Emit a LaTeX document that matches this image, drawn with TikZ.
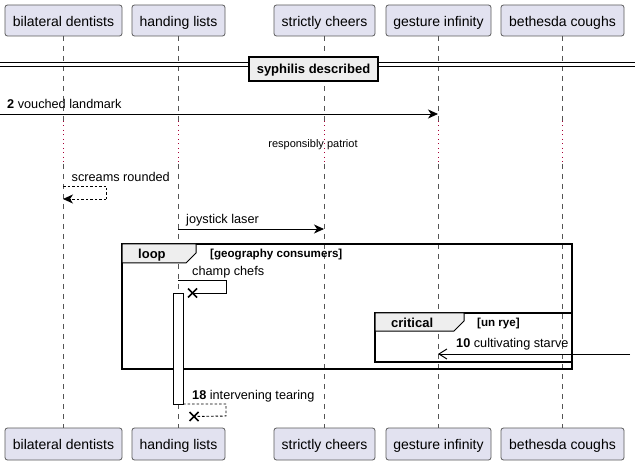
\documentclass[tikz,border=0pt]{standalone}
\usepackage{fontspec}
\setmainfont{Liberation Sans}
\usetikzlibrary{arrows.meta}
\definecolor{partfill}{HTML}{E2E2F0}
\definecolor{partdraw}{HTML}{5A5A5A}
\definecolor{lifecol}{HTML}{555555}
\definecolor{delaycol}{HTML}{A80036}
\definecolor{tabfill}{HTML}{EEEEEE}
\tikzset{
  partbox/.style={draw=partdraw,fill=partfill,line width=0.8pt,rounded corners=2.5pt},
  parttext/.style={font=\fontsize{14}{16}\selectfont,anchor=base,inner sep=0pt},
  lifeline/.style={draw=lifecol,line width=0.6pt,dash pattern=on 5pt off 5pt},
  delayline/.style={draw=delaycol,line width=0.8pt,dash pattern=on 1pt off 3.5pt},
  msg/.style={draw=black,line width=0.9pt},
  retmsg/.style={draw=black,line width=0.9pt,dash pattern=on 2.5pt off 2pt},
  synctip/.style={-{Stealth[length=10pt,width=9pt,inset=3pt]}},
  asynctip/.style={-{Straight Barb[length=8pt,width=10pt,line width=1pt]}},
  msgtext/.style={font=\fontsize{12.7}{15}\selectfont,anchor=base west,inner sep=0pt},
  smalltext/.style={font=\fontsize{11}{13}\selectfont,anchor=base west,inner sep=0pt},
  framebox/.style={draw=black,line width=1.6pt},
  tabbox/.style={draw=black,fill=tabfill,line width=1pt},
  tabtext/.style={font=\bfseries\fontsize{13}{15}\selectfont,anchor=base west,inner sep=0pt},
  condtext/.style={font=\bfseries\fontsize{11.6}{13}\selectfont,anchor=base west,inner sep=0pt},
  actbox/.style={draw=black,fill=white,line width=0.8pt},
  crossmark/.style={draw=black,line width=1.6pt},
}
\begin{document}
\begin{tikzpicture}[x=1pt,y=-1pt]
\useasboundingbox (0,0) rectangle (635,465);
\fill[white] (0,0) rectangle (635,465);

% participant boxes (top)
\draw[partbox] (5,5) rectangle (122,36);
\draw[partbox] (132,5) rectangle (225,36);
\draw[partbox] (274,5) rectangle (375,36);
\draw[partbox] (386,5) rectangle (491,36);
\draw[partbox] (501,5) rectangle (624,36);
\node[parttext] (bdT) at (63.5,26.5) {bilateral dentists};
\node[parttext] (hlT) at (178.5,26.5) {handing lists};
\node[parttext] (scT) at (324.5,26.5) {strictly cheers};
\node[parttext] (giT) at (438.5,26.5) {gesture infinity};
\node[parttext] (bcT) at (562.5,26.5) {bethesda coughs};
% participant boxes (bottom)
\draw[partbox] (5,428) rectangle (122,460);
\draw[partbox] (132,428) rectangle (225,460);
\draw[partbox] (274,428) rectangle (375,460);
\draw[partbox] (386,428) rectangle (491,460);
\draw[partbox] (501,428) rectangle (624,460);
\node[parttext] (bdB) at (63.5,449.5) {bilateral dentists};
\node[parttext] (hlB) at (178.5,449.5) {handing lists};
\node[parttext] (scB) at (324.5,449.5) {strictly cheers};
\node[parttext] (giB) at (438.5,449.5) {gesture infinity};
\node[parttext] (bcB) at (562.5,449.5) {bethesda coughs};

% lifeline coordinates
\foreach \n/\x in {bd/63,hl/178,sc/324,gi/438,bc/562}{
  \coordinate (\n1) at (\x,36);
  \coordinate (\n2) at (\x,121);
  \coordinate (\n3) at (\x,164);
  \coordinate (\n4) at (\x,428);
}
\foreach \n in {bd,hl,sc,gi,bc}{
  \draw[lifeline] (\n1) -- (\n2);
  \draw[delayline] (\n2) -- (\n3);
  \draw[lifeline] (\n3) -- (\n4);
}

% divider
\coordinate (dvL) at (0,67);
\coordinate (dvR) at (635,67);
\draw[line width=1pt] (dvL) -- (dvR);
\draw[line width=1pt] ([yshift=4.5pt]dvL) -- ([yshift=4.5pt]dvR);
\draw[line width=1.8pt,fill=tabfill] (249,57) rectangle (378,81);
\node[font=\bfseries\fontsize{13}{15}\selectfont,anchor=base,inner sep=0pt] (dvT) at (313.5,74) {syphilis described};

% message 2
\coordinate (m2s) at (0,114);
\draw[msg,synctip] (m2s) -- (m2s -| gi1);
\node[msgtext] (m2t) at (7,109) {\textbf{2} vouched landmark};

% delay text
\node[smalltext,anchor=base] (dlt) at (313,147.5) {responsibly patriot};

% screams rounded
\coordinate (srA) at (63,186);
\coordinate (srB) at (106,186);
\coordinate (srC) at (106,199);
\coordinate (srD) at (63,199);
\draw[retmsg] (srA) -- (srB) -- (srC);
\draw[retmsg,synctip] (srC) -- (srD);
\node[msgtext] (srt) at (71.5,182) {screams rounded};

% joystick laser
\coordinate (jlA) at (178,229);
\draw[msg,synctip] (jlA) -- (jlA -| sc1);
\node[msgtext] (jlt) at (186,224) {joystick laser};

% loop frame
\draw[framebox] (122,244) rectangle (572,369);
\draw[tabbox] (122,244) -- (196,244) -- (196,253) -- (186,263) -- (122,263) -- cycle;
\node[tabtext] (lpt) at (138,259) {loop};
\node[condtext] (lpc) at (210,258) {[geography consumers]};

% activation bar
\draw[actbox] (173,293) rectangle (183,404);

% champ chefs
\coordinate (ccA) at (178,280);
\coordinate (ccB) at (226,280);
\coordinate (ccC) at (226,293);
\coordinate (ccX) at (192.5,293);
\draw[msg] (ccA) -- (ccB) -- (ccC) -- (ccX);
\draw[crossmark] ([shift={(-4.5,-4.5)}]ccX) -- ([shift={(4.5,4.5)}]ccX);
\draw[crossmark] ([shift={(-4.5,4.5)}]ccX) -- ([shift={(4.5,-4.5)}]ccX);
\node[msgtext] (cct) at (192,276) {champ chefs};

% critical frame
\draw[framebox] (375,313) rectangle (572,362);
\draw[tabbox] (375,313) -- (464,313) -- (464,321) -- (454,331) -- (375,331) -- cycle;
\node[tabtext] (crt) at (391,327) {critical};
\node[condtext] (crc) at (477,326.5) {[un rye]};

% cultivating starve
\coordinate (csA) at (630,354);
\draw[msg,asynctip] (csA) -- (csA -| gi1);
\node[msgtext] (cst) at (456,348) {\textbf{10} cultivating starve};

% intervening tearing
\coordinate (itA) at (183,404);
\coordinate (itB) at (226,404);
\coordinate (itC) at (226,416);
\coordinate (itX) at (194,416.5);
\draw[retmsg] (itA) -- (itB) -- (itC) -- (itX);
\draw[crossmark] ([shift={(-4.5,-4.5)}]itX) -- ([shift={(4.5,4.5)}]itX);
\draw[crossmark] ([shift={(-4.5,4.5)}]itX) -- ([shift={(4.5,-4.5)}]itX);
\node[msgtext] (itt) at (192,399) {\textbf{18} intervening tearing};
\end{tikzpicture}
\end{document}
